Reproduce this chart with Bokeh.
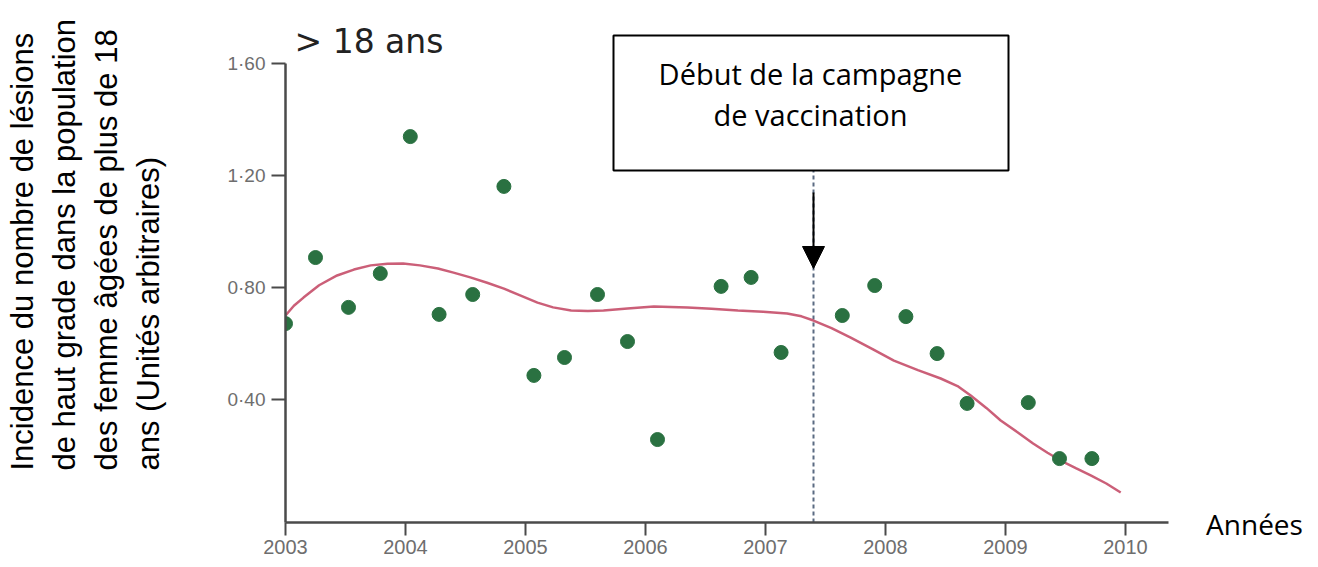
import math
from bokeh.plotting import figure
from bokeh.models import (Range1d, FixedTicker, LinearAxis, Label, Arrow,
                          NormalHead, BoxAnnotation, Title)
from bokeh.embed import file_html
from bokeh.resources import INLINE

# ---------------- data ----------------
obs_year = [2003.00, 2003.25, 2003.525, 2003.79, 2004.04, 2004.28, 2004.56, 2004.82,
            2005.07, 2005.325, 2005.60, 2005.85, 2006.10, 2006.63, 2006.88, 2007.13,
            2007.64, 2007.91, 2008.17, 2008.43, 2008.68, 2009.19, 2009.45, 2009.72]
obs_incidence = [0.671, 0.907, 0.729, 0.850, 1.339, 0.704, 0.775, 1.161,
                 0.486, 0.550, 0.775, 0.607, 0.257, 0.804, 0.836, 0.568,
                 0.700, 0.807, 0.696, 0.564, 0.386, 0.389, 0.189, 0.189]

trend_year = [2003.00, 2003.07, 2003.15, 2003.28, 2003.43, 2003.57, 2003.71, 2003.85,
              2003.98, 2004.12, 2004.27, 2004.40, 2004.54, 2004.68, 2004.82, 2004.96,
              2005.10, 2005.23, 2005.38, 2005.52, 2005.65, 2005.85, 2006.07, 2006.35,
              2006.55, 2006.77, 2006.98, 2007.18, 2007.30, 2007.40, 2007.55, 2007.71,
              2007.90, 2008.07, 2008.27, 2008.46, 2008.60, 2008.71, 2008.84, 2008.96,
              2009.10, 2009.23, 2009.35, 2009.46, 2009.59, 2009.71, 2009.84, 2009.96]
trend_incidence = [0.700, 0.735, 0.764, 0.808, 0.843, 0.864, 0.879, 0.885,
                   0.886, 0.879, 0.868, 0.853, 0.836, 0.817, 0.796, 0.771,
                   0.746, 0.729, 0.718, 0.716, 0.718, 0.725, 0.732, 0.729,
                   0.724, 0.718, 0.713, 0.707, 0.697, 0.682, 0.655, 0.621,
                   0.578, 0.539, 0.505, 0.475, 0.448, 0.414, 0.370, 0.325,
                   0.283, 0.243, 0.210, 0.182, 0.154, 0.129, 0.100, 0.068]

x_ticks = [2003, 2004, 2005, 2006, 2007, 2008, 2009, 2010]
x_tick_labels = ["2003", "2004", "2005", "2006", "2007", "2008", "2009", "2010"]
y_ticks = [0.4, 0.8, 1.2, 1.6]
y_tick_labels = ["0·40", "0·80", "1·20", "1·60"]

vaccination_start = 2007.4
title_text = "> 18 ans"
x_title = "Années"
y_title_lines = ["Incidence du nombre de lésions",
                 "de haut grade dans la population",
                 "des femme âgées de plus de 18",
                 "ans (Unités arbitraires)"]
box_lines = ["Début de la campagne", "de vaccination"]

# ---------------- layout ----------------
W, H = 1318, 567
FL, FR, FT, FB = 285, 1254, 20, 522          # frame edges in figure pixels
PX_X = 120.0                                  # pixels per year
PX_Y = 280.0                                  # pixels per unit
X_REF_PX, Y_REF_PX = 285, 399                 # 2003 and 0.40 in figure px

def fx(px):
    return 2003 + (px - X_REF_PX) / PX_X

def fy(py):
    return 0.40 + (Y_REF_PX - py) / PX_Y

x0, x1 = fx(FL), fx(FR)
y0, y1 = fy(FB), fy(FT)

p = figure(width=W, height=H, x_range=Range1d(x0, x1), y_range=Range1d(y0, y1),
           output_backend="svg", toolbar_location=None,
           x_axis_type=None, y_axis_type=None,
           min_border_left=FL, min_border_right=W - FR,
           min_border_top=FT, min_border_bottom=H - FB)
p.outline_line_color = None
p.background_fill_color = "white"
p.border_fill_color = "white"

AX_COL = "#4a4a4a"
LBL_COL = "#6e6e6e"
TICK_FONT = "Liberation Sans"

xaxis = LinearAxis(ticker=FixedTicker(ticks=x_ticks),
                   major_label_overrides=dict(zip(x_ticks, x_tick_labels)),
                   bounds=(x0, fx(1168)))
xaxis.axis_line_color = AX_COL
xaxis.axis_line_width = 2.5
xaxis.major_tick_line_color = AX_COL
xaxis.major_tick_line_width = 2
xaxis.major_tick_out = 13
xaxis.major_tick_in = 0
xaxis.minor_tick_out = 0
xaxis.minor_tick_in = 0
xaxis.major_label_standoff = 4
xaxis.major_label_text_font = TICK_FONT
xaxis.major_label_text_font_size = "20px"
xaxis.major_label_text_color = LBL_COL
xaxis.axis_label = x_title
xaxis.axis_label_align = "end"
xaxis.axis_label_standoff = -52
xaxis.axis_label_text_font = "Open Sans"
xaxis.axis_label_text_font_size = "28px"
xaxis.axis_label_text_font_style = "normal"
xaxis.axis_label_text_color = "black"
p.add_layout(xaxis, "below")

yaxis = LinearAxis(ticker=FixedTicker(ticks=y_ticks),
                   major_label_overrides=dict(zip(y_ticks, y_tick_labels)),
                   bounds=(y0, 1.6))
yaxis.axis_line_color = AX_COL
yaxis.axis_line_width = 2.5
yaxis.major_tick_line_color = AX_COL
yaxis.major_tick_line_width = 2
yaxis.major_tick_out = 14
yaxis.major_tick_in = 0
yaxis.minor_tick_out = 0
yaxis.minor_tick_in = 0
yaxis.major_label_standoff = 6
yaxis.major_label_text_font = TICK_FONT
yaxis.major_label_text_font_size = "19px"
yaxis.major_label_text_color = LBL_COL
p.add_layout(yaxis, "left")

# y-axis title: one Title per line, stacked outward from the axis
TITLE_KW = dict(align="left", offset=FB - 470, text_font="Liberation Sans",
                text_font_size="31px", text_font_style="normal", text_color="black")
p.add_layout(Title(text=" ", standoff=19, **TITLE_KW), "left")   # spacer
for txt in reversed(y_title_lines):
    p.add_layout(Title(text=txt, standoff=5, **TITLE_KW), "left")

# dashed line marking start of vaccination
box_bottom = fy(170)
p.segment(x0=[vaccination_start], y0=[y0], x1=[vaccination_start], y1=[box_bottom],
          line_color="#5b6b82", line_width=2, line_dash="4 3")

# trend curve and observations
p.line(trend_year, trend_incidence, line_color="#c54e69", line_width=2.5, line_alpha=0.9)
p.scatter(obs_year, obs_incidence, size=14, fill_color="#2a7141", line_color="#2a7141")

# annotation box
p.add_layout(BoxAnnotation(left=fx(613), right=fx(1008), top=fy(35), bottom=box_bottom,
                           fill_color="white", fill_alpha=1.0,
                           line_color="black", line_width=2, line_alpha=1.0))
for txt, py in zip(box_lines, [73, 114]):
    p.add_layout(Label(x=fx(810), y=fy(py), text=txt, text_align="center",
                       text_baseline="middle", text_font="Open Sans",
                       text_font_size="29px", text_color="black"))

p.add_layout(Arrow(end=NormalHead(size=22, fill_color="black", line_color="black"),
                   x_start=vaccination_start, y_start=fy(192),
                   x_end=vaccination_start, y_end=fy(268),
                   line_color="black", line_width=2))

# panel title
p.add_layout(Label(x=fx(294), y=fy(41), text=title_text, text_align="left",
                   text_baseline="alphabetic", text_font="DejaVu Sans",
                   text_font_size="33px", text_color="#222222"))

open("out.html", "w").write(file_html(p, INLINE))
